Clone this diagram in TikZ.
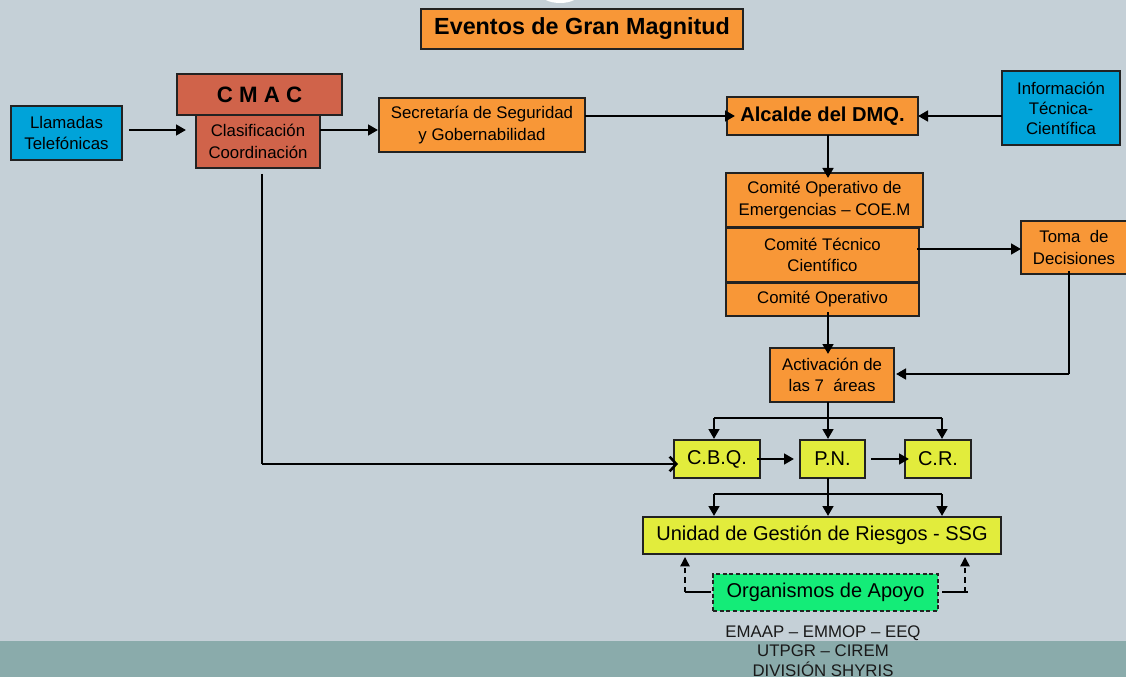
\documentclass[tikz,border=0pt]{standalone}
\usepackage{fontspec}
\setmainfont{Liberation Sans}
\usetikzlibrary{arrows.meta}
\definecolor{bgc}{HTML}{C5D0D7}
\definecolor{bandc}{HTML}{8AABAB}
\definecolor{orangec}{HTML}{F89737}
\definecolor{bluec}{HTML}{00A3D9}
\definecolor{redc}{HTML}{D0634A}
\definecolor{yelc}{HTML}{E2EC3C}
\definecolor{grnc}{HTML}{14EC78}
\definecolor{linec}{HTML}{222222}
\tikzset{
 bx/.style={draw=linec,line width=0.85pt,inner sep=0pt,align=center,text=black,font=\fontsize{12.6}{16}\selectfont},
 org/.style={bx,fill=orangec},
 blu/.style={bx,fill=bluec},
 rd/.style={bx,fill=redc},
 yel/.style={bx,fill=yelc,font=\fontsize{15}{18}\selectfont},
 conn/.style={draw=black,line width=1.9pt,-{Triangle[length=7.5pt,width=8pt]}},
 plainc/.style={draw=black,line width=1.9pt},
 dashc/.style={draw=black,line width=1.1pt,dash pattern=on 4pt off 3pt,-{Triangle[length=7pt,width=7pt]}},
}
\newcommand{\bxat}[7]{\node[#1,minimum width=#5*0.75pt-#3*0.75pt,minimum height=#6*0.75pt-#4*0.75pt] (#2) at ({(#3+#5)/2},{(#4+#6)/2}) {#7};}
\begin{document}
\begin{tikzpicture}[x=0.75pt,y=-0.75pt]
\useasboundingbox (0,0) rectangle (1126,677);
\fill[bgc] (0,0) rectangle (1126,677);
\fill[bandc] (0,641) rectangle (1126,677);
\begin{scope}
\clip (0,0) rectangle (1126,677);
\fill[white] (560,-6) ellipse [x radius=19,y radius=9];
\end{scope}
\bxat{org,font=\fontsize{17.5}{21}\selectfont\bfseries}{title}{421}{9}{743}{49}{Eventos de Gran Magnitud}
\bxat{blu}{llam}{11}{106}{122}{160}{Llamadas\\Telefónicas}
\bxat{rd,font=\fontsize{16.7}{20}\selectfont\bfseries}{cmac}{177}{74}{342}{115}{C M A C}
\bxat{rd}{clas}{196}{115}{320}{168}{Clasificación\\Coordinación}
\bxat{org}{secr}{379}{98}{585}{152}{Secretaría de Seguridad\\y Gobernabilidad}
\bxat{org,font=\fontsize{15.1}{18}\selectfont\bfseries}{alc}{727}{97}{918}{135}{Alcalde del DMQ.}
\bxat{blu,font=\fontsize{12.6}{15}\selectfont}{info}{1002}{71}{1120}{145}{Información\\Técnica-\\Científica}
\bxat{org}{coe}{726}{173}{923}{227}{Comité Operativo de\\Emergencias – COE.M}
\bxat{org}{ctc}{726}{228}{919}{282}{Comité Técnico\\Científico}
\bxat{org}{cop}{726}{283}{919}{316}{Comité Operativo}
\bxat{org}{toma}{1021}{221}{1127}{274}{Toma~~de\\Decisiones}
\bxat{org}{act}{770}{348}{894}{402}{Activación de\\las 7~~áreas}
\bxat{yel}{cbq}{674}{440}{760}{478}{C.B.Q.}
\bxat{yel}{pn}{800}{440}{865}{478}{P.N.}
\bxat{yel}{cr}{905}{440}{971}{478}{C.R.}
\bxat{yel}{uni}{643}{517}{1001}{554}{Unidad de Gestión de Riesgos - SSG}
\node[yel,fill=grnc,dash pattern=on 3pt off 2pt,minimum width=168.75pt,minimum height=27.75pt] (orga) at (825.5,592.5) {Organismos de Apoyo};
\node[font=\fontsize{12.6}{14.7}\selectfont,align=center,text=black!90,anchor=north,inner sep=0pt] (ext) at (823,625) {EMAAP – EMMOP – EEQ\\UTPGR – CIREM\\DIVISIÓN SHYRIS};
% free ends
\coordinate (a1) at (129,130);
\coordinate (a2) at (186,130);
\draw[conn] (a1) -- (a2);
\coordinate (clasr) at (320,130);
\coordinate (secl) at (378,130);
\draw[conn] (clasr) -- (secl);
\coordinate (secr2) at (585,116);
\coordinate (alcl) at (735,116);
\draw[conn] (secr2) -- (alcl);
\coordinate (infol) at (1002,116);
\coordinate (alcr) at (918,116);
\draw[conn] (infol) -- (alcr);
\coordinate (alcb) at (828,135);
\coordinate (coet) at (828,178);
\draw[conn] (alcb) -- (coet);
\coordinate (ctcr) at (917,249);
\coordinate (tomal) at (1021,249);
\draw[conn] (ctcr) -- (tomal);
\coordinate (copb) at (828,312);
\coordinate (actt) at (828,354);
\draw[conn] (copb) -- (actt);
\coordinate (tomab) at (1069,271);
\coordinate (tomac) at (1069,374);
\coordinate (actr) at (896,374);
\draw[plainc] (tomab) -- (tomac);
\draw[conn] (tomac) -- (actr);
\coordinate (clasb) at (262,174);
\coordinate (clasc) at (262,464);
\coordinate (cbql) at (678,464);
\draw[plainc] (clasb) -- (clasc);
\draw[draw=black,line width=1.9pt,-{Straight Barb[length=5pt,width=11pt]}] (clasc) -- (cbql);
\coordinate (actb) at (828,402);
\coordinate (pnt) at (828,439);
\coordinate (bl1) at (714,418);
\coordinate (br1) at (942,418);
\coordinate (cbqt) at (714,439);
\coordinate (crt) at (942,439);
\draw[conn] (actb) -- (pnt);
\draw[plainc] (bl1) -- (br1);
\draw[conn] (bl1) -- (cbqt);
\draw[conn] (br1) -- (crt);
\coordinate (cbqr) at (757,459);
\coordinate (pnl) at (794,459);
\draw[conn] (cbqr) -- (pnl);
\coordinate (pnr) at (871,459);
\coordinate (crl) at (909,459);
\draw[conn] (pnr) -- (crl);
\coordinate (pnb) at (828,478);
\coordinate (unit) at (828,516);
\coordinate (bl2) at (714,494);
\coordinate (br2) at (942,494);
\coordinate (unil) at (714,516);
\coordinate (unir) at (942,516);
\draw[conn] (pnb) -- (unit);
\draw[plainc] (bl2) -- (br2);
\draw[conn] (bl2) -- (unil);
\draw[conn] (br2) -- (unir);
\coordinate (ol) at (711,592);
\coordinate (oc) at (685,592);
\coordinate (ou) at (685,557);
\draw[draw=black,line width=1.1pt] (ol) -- (oc);
\draw[dashc] (oc) -- (ou);
\coordinate (or) at (942,592);
\coordinate (orend) at (968,592);
\coordinate (oc2) at (965,592);
\coordinate (ou2) at (965,557);
\draw[draw=black,line width=1.1pt] (or) -- (orend);
\draw[dashc] (oc2) -- (ou2);
\end{tikzpicture}
\end{document}
